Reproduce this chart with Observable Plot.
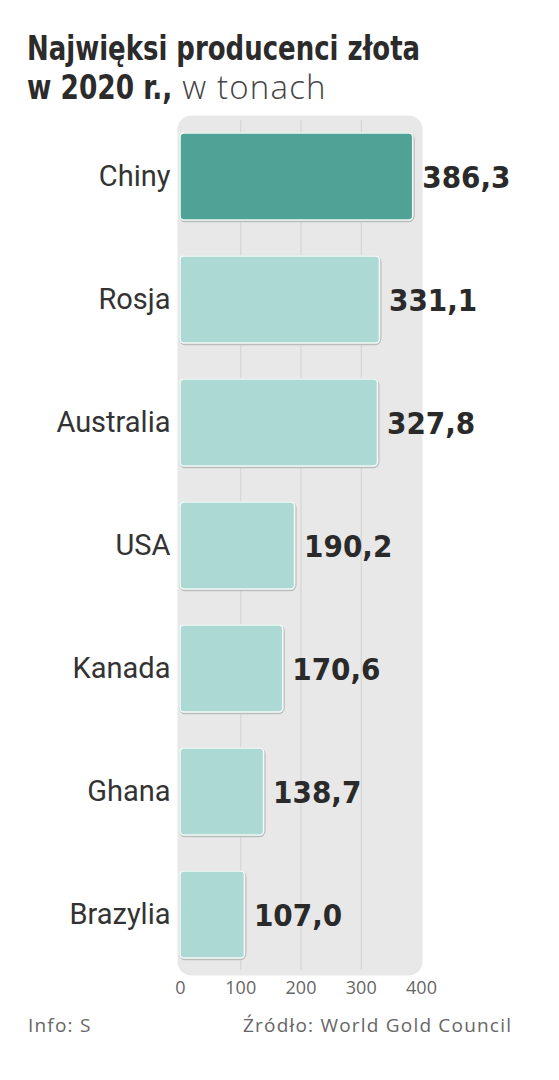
<!DOCTYPE html>
<html>
<head>
<meta charset="utf-8">
<script src="https://cdn.jsdelivr.net/npm/d3@7"></script>
<script src="https://cdn.jsdelivr.net/npm/@observablehq/plot@0.6"></script>
<style>
  html, body { margin: 0; padding: 0; background: #fff; }
  #wrap { width: 559px; height: 1080px; position: relative; overflow: hidden; }
  #title { position: absolute; left: 27px; top: 30px; font-family: "DejaVu Sans Condensed", Roboto, sans-serif; font-size: 33px; line-height: 38px; color: #2b2b2b; white-space: nowrap; }
  #title .b { font-weight: 700; display: inline-block; transform-origin: left center; }
  #title .l { font-family: "Open Sans", sans-serif; font-weight: 300; color: #444; letter-spacing: 1.2px; }
  #chart { position: absolute; left: 0; top: 110px; }
  .foot { position: absolute; top: 1012px; font-family: "Open Sans", sans-serif; font-size: 19px; letter-spacing: 1.2px; color: #666; }
</style>
</head>
<body>
<div id="wrap">
  <div id="title"><span class="b" style="transform:scaleX(0.875)">Najwięksi producenci złota</span><br><span class="b" style="transform:scaleX(0.89)">w 2020 r.,</span><span class="l" style="margin-left:-8px">w tonach</span></div>
  <div id="chart"></div>
  <div class="foot" style="left:28px">Info: S</div>
  <div class="foot" style="left:243px">Źródło: World Gold Council</div>
</div>
<script>
const countries = ["Chiny", "Rosja", "Australia", "USA", "Kanada", "Ghana", "Brazylia"];
const values = [386.3, 331.1, 327.8, 190.2, 170.6, 138.7, 107.0];
const highlight = "Chiny";
const xTicks = [0, 100, 200, 300, 400];
const gridTicks = [100, 200, 300];

const data = countries.map((c, i) => ({country: c, value: values[i]}));
const fmt = v => v.toFixed(1).replace(".", ",");

const chart = Plot.plot({
  width: 559,
  height: 900,
  marginLeft: 180,
  marginRight: 138,
  marginTop: 10,
  marginBottom: 40,
  style: {fontFamily: "Roboto, sans-serif", background: "transparent", overflow: "visible"},
  x: {domain: [0, 400], ticks: xTicks, tickSize: 0, tickPadding: 12, label: null},
  y: {domain: countries, paddingInner: 0.294, paddingOuter: 0.1, tickSize: 0, tickPadding: 10, label: null},
  marks: [
    Plot.frame({fill: "#e8e8e8", stroke: null, rx: 14, insetTop: -5, insetLeft: -3, insetBottom: -5, insetRight: -1}),
    Plot.gridX(gridTicks, {stroke: "#d2d2d2", strokeOpacity: 1, strokeWidth: 1}),
    Plot.barX(data, {y: "country", x: "value", fill: "none", stroke: "#b9bcbb", strokeWidth: 3, rx: 5, dx: 0.5, dy: 0.8}),
    Plot.barX(data, {y: "country", x: "value", fill: d => d.country === highlight ? "#4ea396" : "#acd9d3", stroke: "#f2faf8", strokeWidth: 1.6, rx: 4}),
    Plot.text(data, {y: "country", x: "value", text: d => fmt(d.value), dx: 9, dy: 1, textAnchor: "start", fontSize: 31, fontWeight: "bold", fill: "#2a2a2a", fontFamily: "'DejaVu Sans Condensed', Roboto, sans-serif"}),
    Plot.axisY({tickSize: 0, tickPadding: 10, fontSize: 29, color: "#333", label: null}),
    Plot.axisX({ticks: xTicks, tickSize: 0, tickPadding: 11, fontSize: 18, color: "#666", label: null, fontFamily: "'Open Sans', sans-serif", style: {letterSpacing: "1px"}})
  ]
});
document.getElementById("chart").appendChild(chart);
</script>
</body>
</html>
